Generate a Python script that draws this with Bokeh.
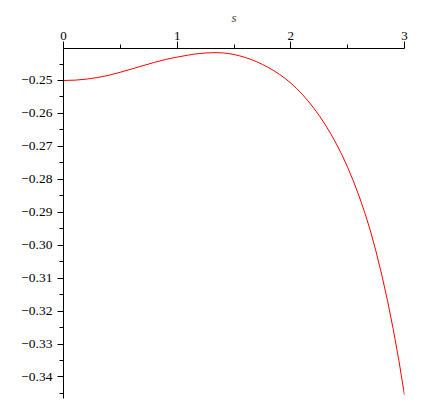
from bokeh.plotting import figure
from bokeh.models import Range1d, LinearAxis, FixedTicker
from bokeh.embed import file_html
from bokeh.resources import INLINE

# curve values
s_values = [0.0, 0.1, 0.2, 0.3, 0.4, 0.5, 0.6, 0.7, 0.8, 0.9, 1.0, 1.1, 1.15, 1.2, 1.25,
            1.3, 1.35, 1.4, 1.45, 1.5, 1.55, 1.6, 1.65, 1.7, 1.75, 1.8, 1.85, 1.9, 1.95,
            2.0, 2.05, 2.1, 2.15, 2.2, 2.25, 2.3, 2.35, 2.4, 2.45, 2.5, 2.55, 2.6, 2.65,
            2.7, 2.75, 2.8, 2.85, 2.9, 2.95, 3.0]
f_values = [-0.25000, -0.24990, -0.24960, -0.24910, -0.24840, -0.24750, -0.24650, -0.24550,
            -0.24450, -0.24360, -0.24290, -0.24228, -0.24200, -0.24180, -0.24166, -0.24158,
            -0.24156, -0.24162, -0.24180, -0.24212, -0.24252, -0.24302, -0.24362, -0.24432,
            -0.24512, -0.24602, -0.24702, -0.24814, -0.24939, -0.25081, -0.25241, -0.25418,
            -0.25616, -0.25831, -0.26066, -0.26326, -0.26611, -0.26921, -0.27261, -0.27636,
            -0.28051, -0.28506, -0.29006, -0.29561, -0.30201, -0.30901, -0.31676, -0.32536,
            -0.33490, -0.34550]

x_ticks = [0, 1, 2, 3]
x_minor = [0.5, 1.5, 2.5]
y_ticks = [-0.25, -0.26, -0.27, -0.28, -0.29, -0.30, -0.31, -0.32, -0.33, -0.34]
y_tick_labels = ["\u22120.25", "\u22120.26", "\u22120.27", "\u22120.28", "\u22120.29",
                 "\u22120.30", "\u22120.31", "\u22120.32", "\u22120.33", "\u22120.34"]
y_minor = [-0.245, -0.255, -0.265, -0.275, -0.285, -0.295, -0.305, -0.315, -0.325,
           -0.335, -0.345]
x_label = "s"

p = figure(width=426, height=404, output_backend="svg", toolbar_location=None,
           x_range=Range1d(0, 3), y_range=Range1d(-0.34654, -0.24029),
           x_axis_location=None, y_axis_location=None,
           min_border_left=63, min_border_right=22, min_border_top=48, min_border_bottom=6)
p.outline_line_color = None
p.grid.visible = False
p.background_fill_color = "white"
p.border_fill_color = "white"

xa = LinearAxis(ticker=FixedTicker(ticks=x_ticks, minor_ticks=x_minor))
xa.axis_label = x_label
xa.axis_label_text_font = "Liberation Serif"
xa.axis_label_text_font_style = "italic"
xa.axis_label_text_font_size = "13px"
xa.axis_label_standoff = 4
xa.major_label_text_font = "Liberation Serif"
xa.major_label_text_font_size = "13px"
xa.major_label_text_color = "#000000"
xa.major_label_standoff = 2
xa.major_tick_out = 7
xa.major_tick_in = 0
xa.minor_tick_out = 4
xa.minor_tick_in = 0
xa.axis_line_color = "black"
xa.major_tick_line_color = "black"
xa.minor_tick_line_color = "black"
p.add_layout(xa, "above")

ya = LinearAxis(ticker=FixedTicker(ticks=y_ticks, minor_ticks=y_minor))
ya.major_label_overrides = dict(zip(y_ticks, y_tick_labels))
ya.major_label_text_font = "Liberation Serif"
ya.major_label_text_font_size = "13.5px"
ya.major_label_text_color = "#000000"
ya.major_label_standoff = 5
ya.major_tick_out = 6
ya.major_tick_in = 0
ya.minor_tick_out = 4
ya.minor_tick_in = 0
ya.axis_line_color = "black"
ya.major_tick_line_color = "black"
ya.minor_tick_line_color = "black"
p.add_layout(ya, "left")

p.line(s_values, f_values, line_color="red", line_width=1)

open("out.html", "w").write(file_html(p, INLINE))
